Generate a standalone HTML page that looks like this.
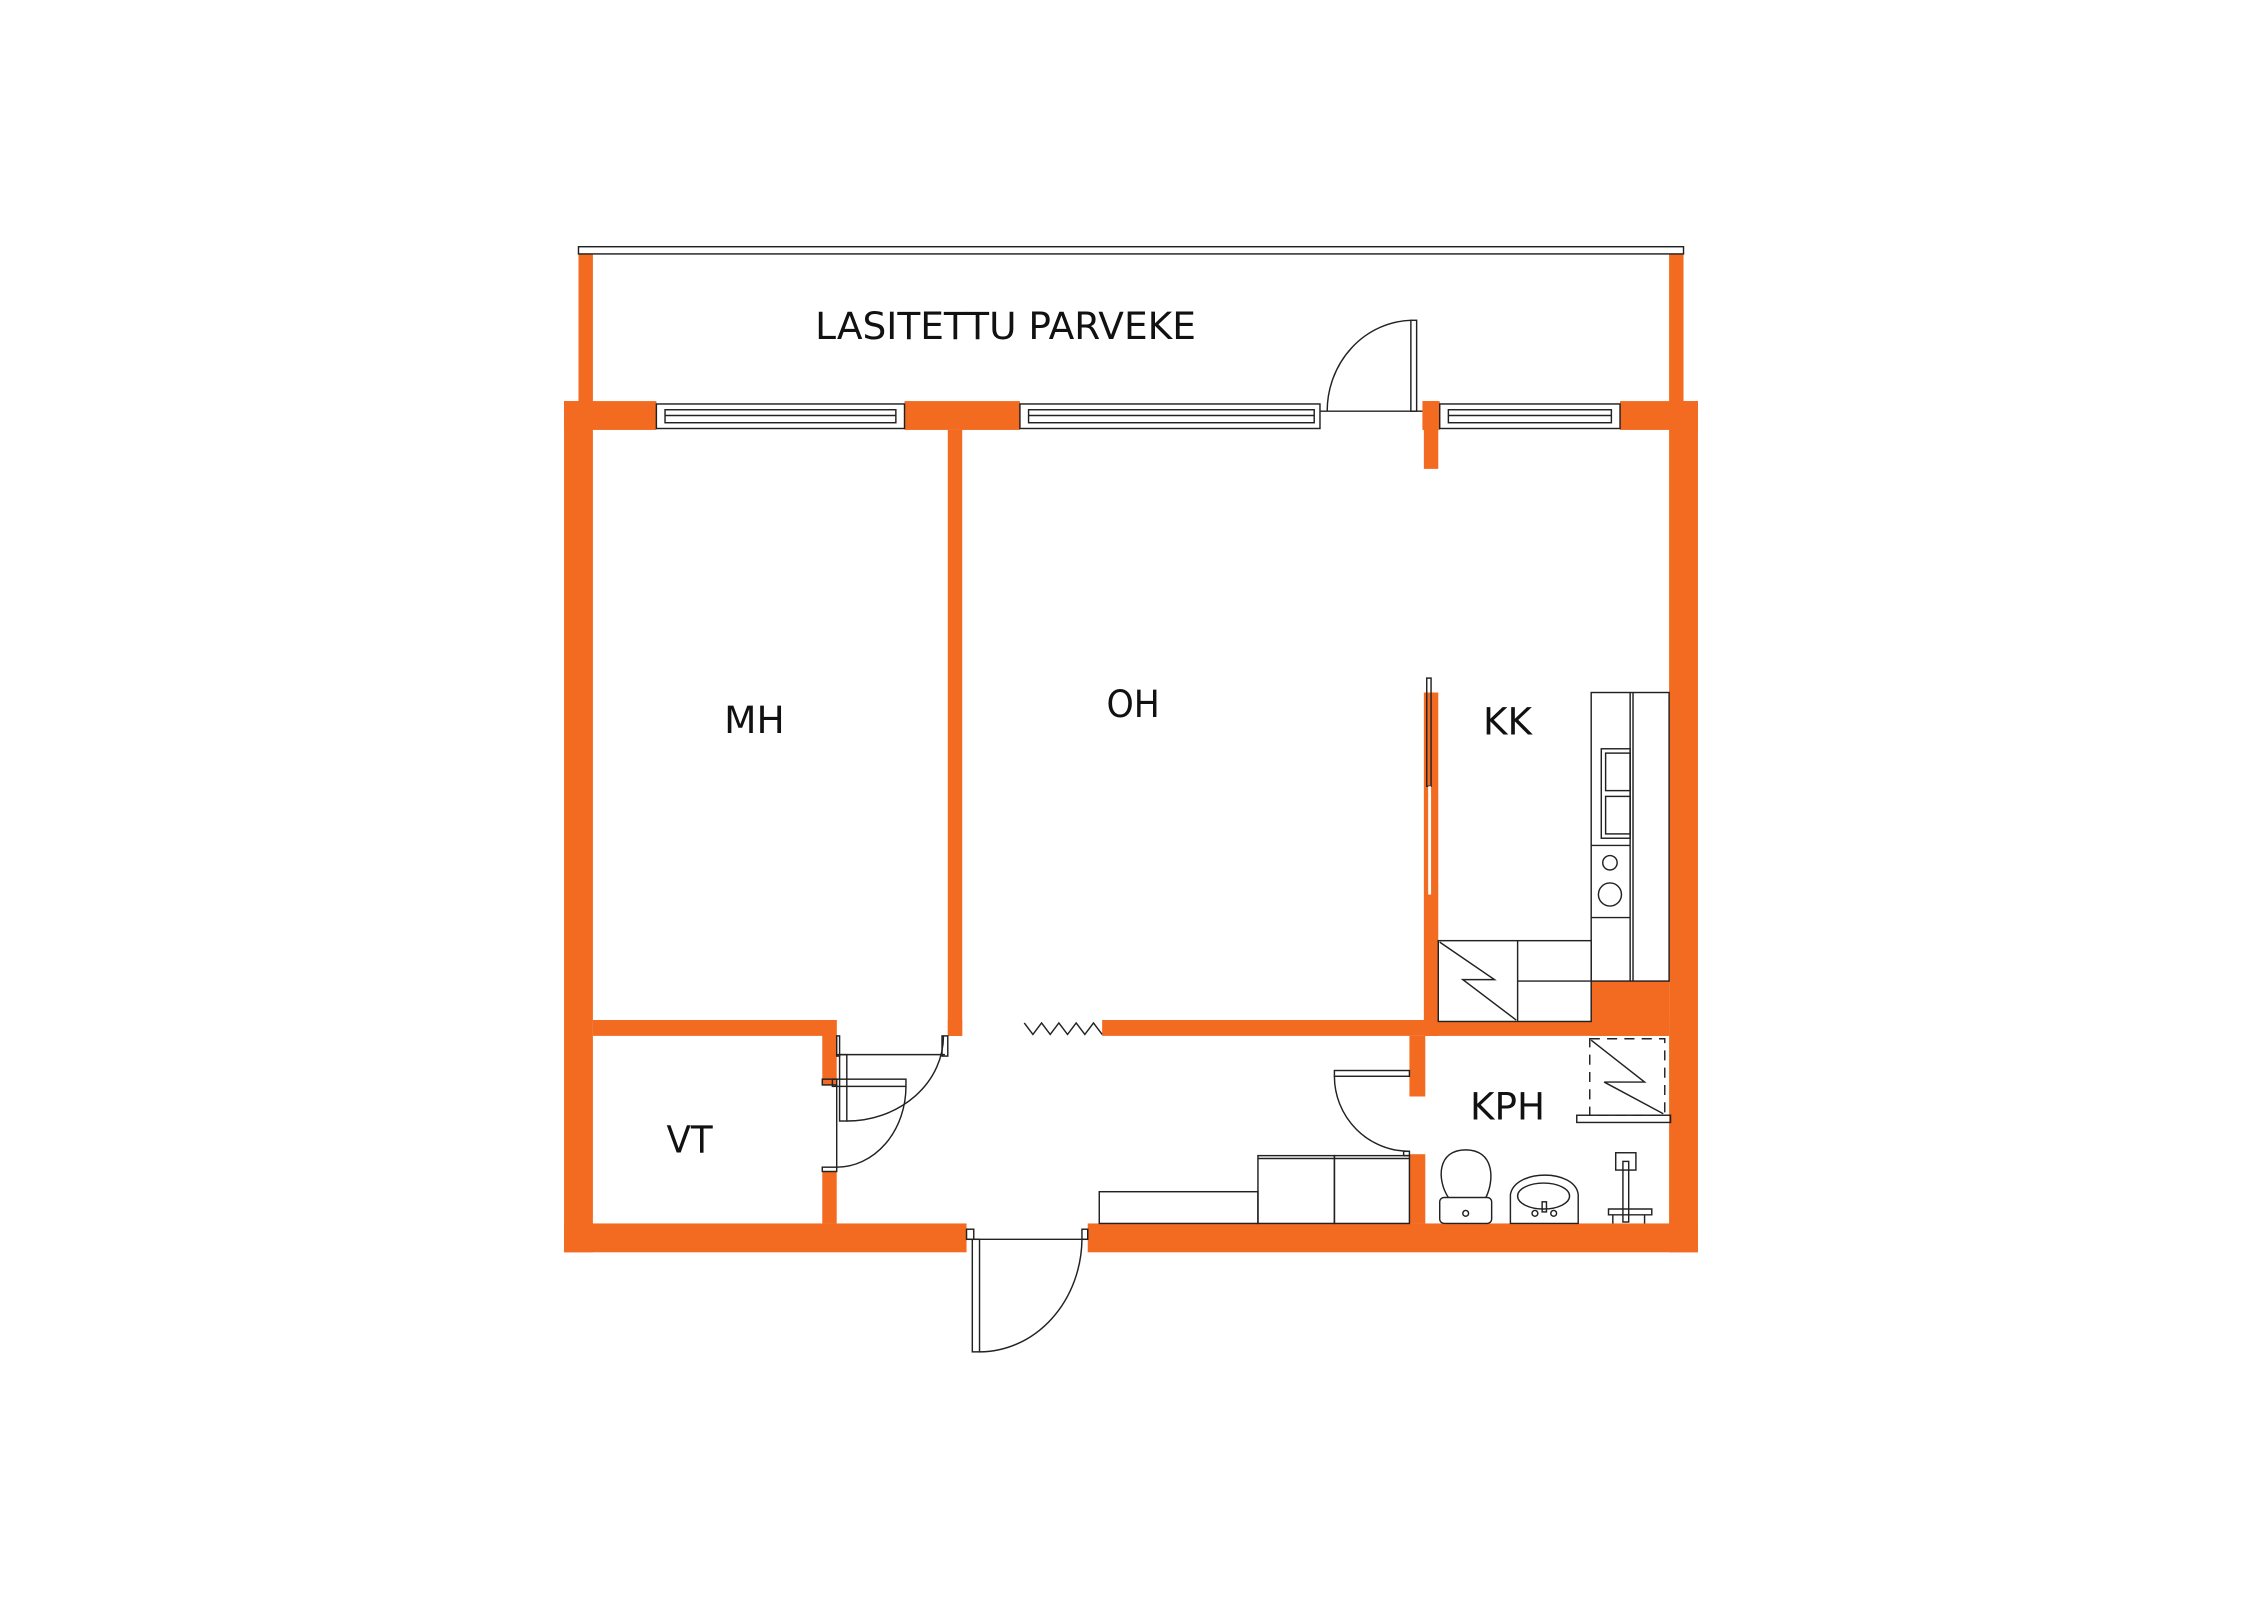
<!DOCTYPE html>
<html><head><meta charset="utf-8"><style>html,body{margin:0;padding:0;background:#fff}svg{display:block}</style></head>
<body>
<svg width="2262" height="1600" viewBox="0 0 1568 1109" preserveAspectRatio="none" xmlns="http://www.w3.org/2000/svg">
<rect width="1568" height="1109" fill="#fff"/>
<g fill="#f26b21">
<rect x="401" y="176" width="10" height="104"/>
<rect x="1157" y="176" width="10" height="104"/>
<rect x="391" y="278" width="20" height="590"/>
<rect x="1157" y="278" width="20" height="590"/>
<rect x="391" y="848" width="279" height="20"/>
<rect x="754" y="848" width="423" height="20"/>
<rect x="391" y="278" width="64" height="20"/>
<rect x="627" y="278" width="80" height="20"/>
<rect x="986" y="278" width="12" height="20"/>
<rect x="987" y="278" width="10" height="47"/>
<rect x="1123" y="278" width="54" height="20"/>
<rect x="657" y="298" width="10" height="420"/>
<rect x="411" y="707" width="169" height="11"/>
<rect x="570" y="707" width="10" height="45"/>
<rect x="570" y="812" width="10" height="36"/>
<rect x="657" y="707" width="10" height="11"/>
<rect x="764" y="707" width="224" height="11"/>
<rect x="987" y="480" width="10" height="238"/>
<rect x="988" y="708" width="169" height="10"/>
<rect x="1103" y="680" width="54" height="38"/>
<rect x="977" y="718" width="11" height="42"/>
<rect x="977" y="800" width="11" height="48"/>
</g>
<g fill="none" stroke="#222" stroke-width="1">
<rect x="401" y="171" width="766" height="5" fill="#fff"/>
<rect x="455" y="280" width="172" height="17"/><rect x="461" y="284" width="160" height="9"/><line x1="461" y1="288" x2="621" y2="288"/>
<rect x="707" y="280" width="208" height="17"/><rect x="713" y="284" width="198" height="9"/><line x1="713" y1="288" x2="911" y2="288"/>
<rect x="998" y="280" width="125" height="17"/><rect x="1004" y="284" width="113" height="9"/><line x1="1004" y1="288" x2="1117" y2="288"/>
<line x1="915" y1="285" x2="986" y2="285"/>
<rect x="978" y="222" width="4" height="63"/>
<path d="M920 285 A60 63 0 0 1 978 222"/>
<rect x="989" y="470" width="3" height="75"/>
<line x1="991" y1="545" x2="991" y2="620" stroke="#fff" stroke-width="2"/>
<rect x="1103" y="480" width="54" height="200" fill="#fff"/>
<line x1="1130" y1="480" x2="1130" y2="680"/><line x1="1132" y1="480" x2="1132" y2="680"/>
<line x1="1103" y1="586" x2="1130" y2="586"/><line x1="1103" y1="636" x2="1130" y2="636"/>
<rect x="1110" y="519" width="20" height="62"/><rect x="1113" y="522" width="17" height="26"/><rect x="1113" y="552" width="17" height="26"/>
<circle cx="1116" cy="598" r="5"/><circle cx="1116" cy="620" r="8"/>
<rect x="997" y="652" width="106" height="56" fill="#fff"/>
<line x1="1052" y1="652" x2="1052" y2="708"/><line x1="1052" y1="680" x2="1103" y2="680"/>
<path d="M998 653 L1036 679 L1014 679 L1051 707"/>
<rect x="1102" y="720" width="52" height="53" stroke-dasharray="7 5"/>
<path d="M1103 721 L1140 750 L1112 750 L1153 772"/>
<rect x="1093" y="773" width="65" height="5"/>
<path d="M1004 830 C996 818 996 797 1016 797 C1036 797 1036 818 1030 830"/>
<rect x="998" y="830" width="36" height="18" rx="3"/><circle cx="1016" cy="841" r="2"/>
<path d="M1047 848 L1047 828 C1050 810 1092 810 1094 828 L1094 848 Z"/><ellipse cx="1070" cy="829" rx="18" ry="9"/>
<circle cx="1064" cy="841" r="2"/><circle cx="1077" cy="841" r="2"/><rect x="1069" y="833" width="3" height="7"/>
<rect x="1120" y="799" width="14" height="12"/><rect x="1125" y="805" width="4" height="42"/>
<path d="M1115 838 h30 v4 h-30 z M1118 842 v6 M1140 842 v6"/>
<rect x="925" y="742" width="52" height="4"/>
<path d="M925 746 A52 52 0 0 0 977 798"/>
<rect x="973" y="798" width="4" height="3"/>
<rect x="762" y="826" width="110" height="22"/>
<rect x="872" y="801" width="53" height="47"/><rect x="925" y="801" width="52" height="47"/>
<line x1="872" y1="803" x2="977" y2="803"/>
<line x1="580" y1="731" x2="655" y2="731"/>
<rect x="580" y="718" width="2" height="14"/><rect x="653" y="718" width="4" height="14"/>
<rect x="582" y="731" width="5" height="46"/>
<path d="M587 777 A67 59 0 0 0 654 718"/>
<rect x="577" y="748" width="51" height="5"/>
<path d="M628 753 A48 56 0 0 1 580 809"/>
<rect x="570" y="809" width="10" height="3"/><rect x="570" y="748" width="10" height="4"/>
<line x1="580" y1="752" x2="580" y2="809"/>
<path d="M710 709 L716 717 L722 709 L728 717 L734 709 L740 717 L746 709 L752 717 L758 709 L764 717"/>
<line x1="670" y1="859" x2="754" y2="859"/>
<rect x="670" y="852" width="5" height="7"/><rect x="750" y="852" width="4" height="7"/>
<rect x="674" y="859" width="5" height="78"/>
<path d="M679 937 A71 79 0 0 0 750 859"/>
</g>
<g font-family="'DejaVu Sans','Liberation Sans',sans-serif" font-size="26" fill="#111">
<text x="565" y="235" textLength="264" lengthAdjust="spacingAndGlyphs">LASITETTU PARVEKE</text>
<text x="502" y="508" textLength="42" lengthAdjust="spacingAndGlyphs">MH</text>
<text x="767" y="497" textLength="37" lengthAdjust="spacingAndGlyphs">OH</text>
<text x="1028" y="509" textLength="34" lengthAdjust="spacingAndGlyphs">KK</text>
<text x="462" y="799" textLength="32" lengthAdjust="spacingAndGlyphs">VT</text>
<text x="1019" y="776" textLength="52" lengthAdjust="spacingAndGlyphs">KPH</text>
</g>
</svg>
</body></html>
